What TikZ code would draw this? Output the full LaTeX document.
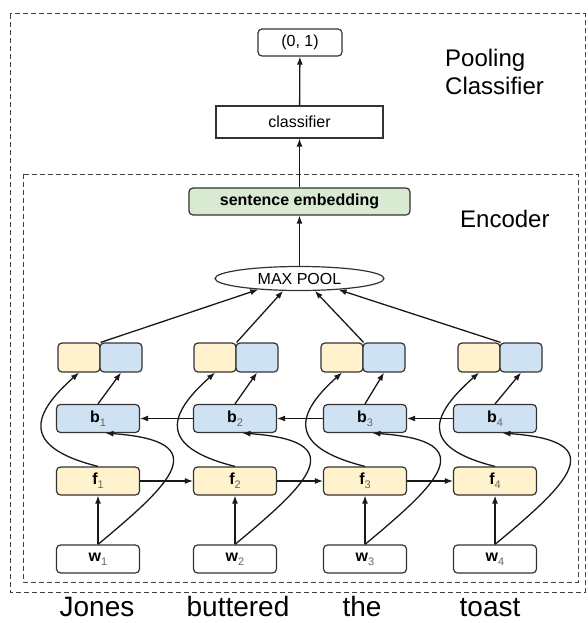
\documentclass[tikz,border=0pt]{standalone}
\usepackage{fontspec}
\setmainfont{Liberation Sans}
\usetikzlibrary{arrows.meta,shapes.geometric}

\definecolor{fwdfill}{HTML}{FFF2CC}
\definecolor{bwdfill}{HTML}{CFE2F3}
\definecolor{embfill}{HTML}{D9EAD3}
\definecolor{edgegray}{HTML}{333333}
\newcommand{\vlbl}[2]{\textbf{#1}\raisebox{-4pt}{\fontsize{11}{11}\selectfont\color{black!60}#2}}

\tikzset{
  box/.style={draw=edgegray,line width=1.2pt,rounded corners=4pt,minimum width=83pt,
    minimum height=28pt,inner sep=0pt,font=\fontsize{16}{19}\selectfont},
  fwd/.style={box,fill=fwdfill},
  bwd/.style={box,fill=bwdfill},
  half/.style={draw=edgegray,line width=1.2pt,rounded corners=4pt,minimum width=42pt,
    minimum height=29pt,inner sep=0pt},
  arr/.style={-{Latex[length=8pt,width=6pt]},line width=1.3pt,draw=black!90},
  frame/.style={dash pattern=on 5pt off 3pt,line width=1pt,draw=black!75},
  big/.style={font=\fontsize{24}{28}\selectfont,inner sep=0pt,anchor=base west},
  word/.style={font=\fontsize{28}{32}\selectfont,inner sep=0pt,anchor=base},
}

\begin{document}
\begin{tikzpicture}[x=1pt,y=1pt]
      \useasboundingbox (0,0) rectangle (587,-623);
      \draw[frame] (10,-14) rectangle (585,-592);
      \draw[frame] (23,-174) rectangle (578,-582);

      % pooling classifier part
      \node [box,minimum width=84pt,minimum height=27pt] (out) at (300,-42.5) {(0, 1)};
      \node [box,rounded corners=0pt,minimum width=167pt,minimum height=32pt] (clf) at (299.5,-122) {classifier};
      \node [big] (poolA) at (445,-67) {Pooling};
      \node [big] (poolB) at (445,-95) {Classifier};

      % encoder part
      \node [box,fill=embfill,minimum width=221pt,minimum height=27pt,
        font=\fontsize{16}{19}\selectfont\bfseries] (sent) at (299.5,-201.5) {sentence embedding};
      \node [big] (enc) at (460,-227) {Encoder};
      \node [ellipse,draw=edgegray,line width=1.2pt,minimum width=169pt,minimum height=24pt,
        inner sep=0pt,font=\fontsize{16}{19}\selectfont] (pool) at (299.5,-278.5) {MAX POOL};

      \node [half,fill=fwdfill] (hf1) at (79,-357.5) {};
      \node [half,fill=bwdfill] (hb1) at (121,-357.5) {};
      \node [half,fill=fwdfill] (hf2) at (215,-357.5) {};
      \node [half,fill=bwdfill] (hb2) at (257,-357.5) {};
      \node [half,fill=fwdfill] (hf3) at (342,-357.5) {};
      \node [half,fill=bwdfill] (hb3) at (384,-357.5) {};
      \node [half,fill=fwdfill] (hf4) at (479,-357.5) {};
      \node [half,fill=bwdfill] (hb4) at (521,-357.5) {};

      \node [bwd] (b1) at (98,-418.5) {\vlbl{b}{1}};
      \node [bwd] (b2) at (235,-418.5) {\vlbl{b}{2}};
      \node [bwd] (b3) at (365,-418.5) {\vlbl{b}{3}};
      \node [bwd] (b4) at (495,-418.5) {\vlbl{b}{4}};

      \node [fwd] (f1) at (98,-481) {\vlbl{f}{1}};
      \node [fwd] (f2) at (235,-481) {\vlbl{f}{2}};
      \node [fwd] (f3) at (365,-481) {\vlbl{f}{3}};
      \node [fwd] (f4) at (495,-481) {\vlbl{f}{4}};

      \node [box] (w1) at (98,-559) {\vlbl{w}{1}};
      \node [box] (w2) at (235,-559) {\vlbl{w}{2}};
      \node [box] (w3) at (365,-559) {\vlbl{w}{3}};
      \node [box] (w4) at (495,-559) {\vlbl{w}{4}};

      \node [word] (word1) at (97,-616) {Jones};
      \node [word] (word2) at (238,-616) {buttered};
      \node [word] (word3) at (362,-616) {the};
      \node [word] (word4) at (490,-616) {toast};

      % upward flow
      \draw[arr] (clf) -- (out);
      \draw[arr] (sent) -- (clf);
      \draw[arr] (pool) -- (sent);
      \draw[arr] (hf1.north east) -- (pool.195);
      \draw[arr] (hf2.north east) -- (pool.217);
      \draw[arr] (hf3.north east) -- (pool.321);
      \draw[arr] (hf4.north east) -- (pool.344);

      \draw[arr] (w1) -- (f1);
      \draw[arr] (w2) -- (f2);
      \draw[arr] (w3) -- (f3);
      \draw[arr] (w4) -- (f4);

      \draw[arr] (w1.north) .. controls +(72,60) and +(112,-8) .. (b1.297);
      \draw[arr] (w2.north) .. controls +(72,60) and +(112,-8) .. (b2.297);
      \draw[arr] (w3.north) .. controls +(72,60) and +(112,-8) .. (b3.297);
      \draw[arr] (w4.north) .. controls +(72,60) and +(112,-8) .. (b4.297);

      \draw[arr] (f1.north) .. controls +(-80,20) and +(-45,-40) .. (hf1.south);
      \draw[arr] (f2.north) .. controls +(-80,20) and +(-45,-40) .. (hf2.south);
      \draw[arr] (f3.north) .. controls +(-80,20) and +(-45,-40) .. (hf3.south);
      \draw[arr] (f4.north) .. controls +(-80,20) and +(-45,-40) .. (hf4.south);

      \draw[arr] (b1.north) -- (hb1.south);
      \draw[arr] (b2.north) -- (hb2.south);
      \draw[arr] (b3.north) -- (hb3.south);
      \draw[arr] (b4.north) -- (hb4.south);

      % recurrences
      \draw[arr] (f1) -- (f2);
      \draw[arr] (f2) -- (f3);
      \draw[arr] (f3) -- (f4);
      \draw[arr] (b4) -- (b3);
      \draw[arr] (b3) -- (b2);
      \draw[arr] (b2) -- (b1);
    \end{tikzpicture}
\end{document}
